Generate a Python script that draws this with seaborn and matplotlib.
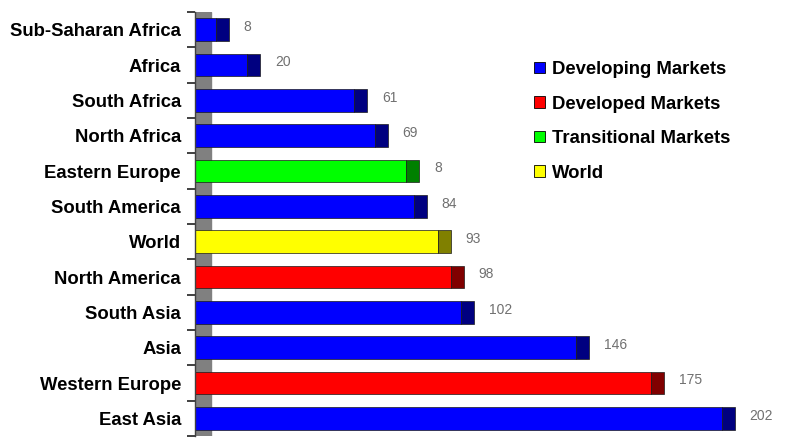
import numpy as np
import pandas as pd
import seaborn as sns
import matplotlib.pyplot as plt
from matplotlib.patches import Patch

# datos
regiones = ["Sub-Saharan Africa", "Africa", "South Africa", "North Africa",
            "Eastern Europe", "South America", "World", "North America",
            "South Asia", "Asia", "Western Europe", "East Asia"]
valores = [8, 20, 61, 69, 81, 84, 93, 98, 102, 146, 175, 202]
etiquetas = ["8", "20", "61", "69", "8", "84", "93", "98", "102", "146", "175", "202"]
mercado = ["Developing Markets", "Developing Markets", "Developing Markets",
           "Developing Markets", "Transitional Markets", "Developing Markets",
           "World", "Developed Markets", "Developing Markets",
           "Developing Markets", "Developed Markets", "Developing Markets"]

grupos = ["Developing Markets", "Developed Markets", "Transitional Markets", "World"]
colores = {"Developing Markets": "#0000ff", "Developed Markets": "#ff0000",
           "Transitional Markets": "#00ff00", "World": "#ffff00"}
oscuros = {"Developing Markets": "#000080", "Developed Markets": "#800000",
           "Transitional Markets": "#008000", "World": "#808000"}

df = pd.DataFrame({"region": regiones, "valor": valores, "mercado": mercado})

sns.set_style("white")
plt.rcParams["font.family"] = ["Liberation Sans", "DejaVu Sans"]

fig = plt.figure(figsize=(7.87, 4.38), dpi=100)
ax = fig.add_axes([195 / 787, 2 / 438, 592 / 787, 424 / 438])

# pared gris del efecto 3D
ax.axvspan(0, 6, color="#808080", zorder=0)

sns.barplot(data=df, x="valor", y="region", hue="mercado", palette=colores,
            saturation=1, dodge=False, orient="h", width=0.64, ax=ax,
            legend=False, edgecolor="#1a1a1a", linewidth=0.5, zorder=2)

# cara lateral oscura de cada barra
pos = np.arange(len(regiones))
ax.barh(pos, 5, left=df["valor"], height=0.64,
        color=[oscuros[m] for m in mercado], edgecolor="#1a1a1a",
        linewidth=0.5, zorder=2)

for i, (v, t) in enumerate(zip(valores, etiquetas)):
    ax.annotate(t, (v, i), xytext=(20, 2), textcoords="offset points",
                ha="left", va="center", fontsize=10, color="#707070")

ax.set_xlim(0, 227)
ax.set_ylim(len(regiones) - 0.5, -0.5)
ax.set_xlabel("")
ax.set_ylabel("")
ax.set_xticks([])
ax.set_yticks(pos)
ax.set_yticklabels(regiones, fontsize=13.3, fontweight="bold", color="black")
ax.set_yticks(np.arange(len(regiones) + 1) - 0.5, minor=True)
ax.tick_params(axis="y", which="major", length=0, pad=10)
ax.tick_params(axis="y", which="minor", length=6, width=1.2, color="#202020", left=True)
for s in ["top", "right", "bottom"]:
    ax.spines[s].set_visible(False)
ax.spines["left"].set_color("#404040")
ax.spines["left"].set_linewidth(1.0)

handles = [Patch(facecolor=colores[g], edgecolor="black", linewidth=0.6, label=g)
           for g in grupos]
fig.legend(handles=handles, loc="upper left", bbox_to_anchor=(534 / 787, 1 - 61 / 438),
           frameon=False, handlelength=0.6, handleheight=0.6, handletextpad=0.4,
           labelspacing=0.95, borderpad=0, borderaxespad=0, labelcolor="black",
           prop={"weight": "bold", "size": 13.3})

fig.savefig("out.png", dpi=100)
